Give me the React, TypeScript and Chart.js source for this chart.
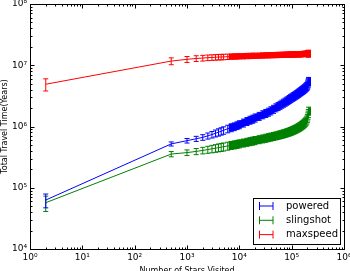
import React, { useEffect, useRef } from "react";
import { Chart, registerables } from "chart.js";

Chart.register(...registerables);

// ---- data ----
const starsVisited = [
  2, 500, 1000, 1500, 2000, 2500, 3000, 3500, 4000, 4500, 5000,
  6000, 7000, 8000, 9000, 10000,
  12000, 14000, 16000, 18000, 20000,
  24000, 28000, 32000, 36000, 40000,
  45000, 50000, 55000, 60000, 65000, 70000, 75000, 80000, 85000, 90000,
  95000, 100000, 105000, 110000, 115000, 120000, 125000, 130000, 135000, 140000,
  145000, 150000, 155000, 160000, 165000, 170000, 175000, 180000, 185000, 190000,
  195000, 200000, 203000, 206000, 208000, 210000,
];

const poweredTime = [
  6.3e4, 5.2e5, 5.87e5, 6.31e5, 6.65e5, 7.03e5, 7.39e5, 7.75e5, 8.07e5, 8.38e5, 8.67e5,
  9.18e5, 9.62e5, 1.0e6, 1.04e6, 1.08e6,
  1.15e6, 1.22e6, 1.28e6, 1.33e6, 1.39e6,
  1.48e6, 1.57e6, 1.65e6, 1.73e6, 1.82e6,
  1.93e6, 2.04e6, 2.14e6, 2.24e6, 2.34e6, 2.43e6, 2.52e6, 2.61e6, 2.7e6, 2.79e6,
  2.88e6, 2.96e6, 3.04e6, 3.12e6, 3.2e6, 3.28e6, 3.36e6, 3.44e6, 3.52e6, 3.6e6,
  3.68e6, 3.76e6, 3.84e6, 3.92e6, 4.0e6, 4.08e6, 4.16e6, 4.25e6, 4.34e6, 4.44e6,
  4.55e6, 4.68e6, 4.85e6, 5.05e6, 5.25e6, 5.5e6,
];
const poweredErr = [
  1.6e4, 4.0e4, 5.0e4, 6.0e4, 7.0e4, 8.0e4, 9.0e4, 1.0e5, 1.1e5, 1.15e5, 1.2e5,
  1.3e5, 1.4e5, 1.45e5, 1.5e5, 1.6e5,
  1.7e5, 1.8e5, 1.9e5, 2.0e5, 2.1e5,
  2.2e5, 2.35e5, 2.5e5, 2.6e5, 2.75e5,
  2.9e5, 3.05e5, 3.2e5, 3.35e5, 3.5e5, 3.65e5, 3.8e5, 3.9e5, 4.05e5, 4.2e5,
  4.3e5, 4.45e5, 4.55e5, 4.7e5, 4.8e5, 4.9e5, 5.05e5, 5.15e5, 5.3e5, 5.4e5,
  5.5e5, 5.65e5, 5.75e5, 5.9e5, 6.0e5, 6.1e5, 6.25e5, 6.4e5, 6.5e5, 6.65e5,
  6.8e5, 7.0e5, 7.3e5, 7.6e5, 7.9e5, 8.3e5,
];

const slingshotTime = [
  5.7e4, 3.55e5, 3.75e5, 3.92e5, 4.07e5, 4.2e5, 4.32e5, 4.42e5, 4.52e5, 4.6e5, 4.68e5,
  4.82e5, 4.95e5, 5.06e5, 5.16e5, 5.26e5,
  5.43e5, 5.58e5, 5.72e5, 5.84e5, 5.96e5,
  6.16e5, 6.34e5, 6.5e5, 6.65e5, 6.79e5,
  6.95e5, 7.1e5, 7.25e5, 7.39e5, 7.53e5, 7.67e5, 7.81e5, 7.95e5, 8.09e5, 8.23e5,
  8.37e5, 8.52e5, 8.67e5, 8.83e5, 8.99e5, 9.15e5, 9.32e5, 9.49e5, 9.67e5, 9.85e5,
  1.004e6, 1.024e6, 1.045e6, 1.067e6, 1.09e6, 1.115e6, 1.14e6, 1.17e6, 1.2e6, 1.24e6,
  1.29e6, 1.36e6, 1.45e6, 1.55e6, 1.65e6, 1.8e6,
];
const slingshotErr = [
  1.6e4, 3.5e4, 4.0e4, 4.5e4, 5.0e4, 5.5e4, 6.0e4, 6.3e4, 6.6e4, 6.9e4, 7.0e4,
  7.2e4, 7.4e4, 7.6e4, 7.7e4, 7.9e4,
  8.1e4, 8.4e4, 8.6e4, 8.8e4, 9.0e4,
  9.2e4, 9.5e4, 9.8e4, 1.0e5, 1.02e5,
  1.04e5, 1.07e5, 1.09e5, 1.11e5, 1.13e5, 1.15e5, 1.17e5, 1.19e5, 1.21e5, 1.23e5,
  1.26e5, 1.28e5, 1.3e5, 1.32e5, 1.35e5, 1.37e5, 1.4e5, 1.42e5, 1.45e5, 1.48e5,
  1.5e5, 1.54e5, 1.57e5, 1.6e5, 1.64e5, 1.67e5, 1.71e5, 1.76e5, 1.8e5, 1.86e5,
  1.94e5, 2.04e5, 2.2e5, 2.35e5, 2.5e5, 2.7e5,
];

const maxspeedTime = [
  4.9e6, 1.17e7, 1.25e7, 1.29e7, 1.31e7, 1.33e7, 1.34e7, 1.35e7, 1.36e7, 1.365e7, 1.37e7,
  1.38e7, 1.39e7, 1.395e7, 1.4e7, 1.405e7,
  1.41e7, 1.42e7, 1.425e7, 1.43e7, 1.435e7,
  1.44e7, 1.45e7, 1.455e7, 1.46e7, 1.465e7,
  1.47e7, 1.475e7, 1.478e7, 1.482e7, 1.485e7, 1.488e7, 1.491e7, 1.494e7, 1.497e7, 1.5e7,
  1.502e7, 1.505e7, 1.507e7, 1.51e7, 1.512e7, 1.514e7, 1.516e7, 1.518e7, 1.52e7, 1.522e7,
  1.524e7, 1.526e7, 1.528e7, 1.53e7, 1.532e7, 1.534e7, 1.536e7, 1.538e7, 1.54e7, 1.542e7,
  1.545e7, 1.548e7, 1.55e7, 1.553e7, 1.556e7, 1.56e7,
];
const maxspeedErr = [
  1.1e6, 1.5e6, 1.4e6, 1.4e6, 1.4e6, 1.4e6, 1.4e6, 1.4e6, 1.4e6, 1.4e6, 1.4e6,
  1.4e6, 1.4e6, 1.4e6, 1.4e6, 1.4e6,
  1.42e6, 1.42e6, 1.42e6, 1.42e6, 1.42e6,
  1.44e6, 1.44e6, 1.44e6, 1.44e6, 1.44e6,
  1.45e6, 1.45e6, 1.45e6, 1.45e6, 1.45e6, 1.45e6, 1.45e6, 1.45e6, 1.45e6, 1.45e6,
  1.48e6, 1.48e6, 1.48e6, 1.48e6, 1.48e6, 1.48e6, 1.48e6, 1.48e6, 1.48e6, 1.48e6,
  1.5e6, 1.5e6, 1.5e6, 1.5e6, 1.5e6, 1.5e6, 1.5e6, 1.5e6, 1.5e6, 1.5e6,
  1.55e6, 1.55e6, 1.7e6, 1.8e6, 1.9e6, 2.0e6,
];

const seriesNames = ["powered", "slingshot", "maxspeed"];
const seriesColors = ["#0000ff", "#008000", "#ff0000"];
const seriesValues = [poweredTime, slingshotTime, maxspeedTime];
const seriesErrors = [poweredErr, slingshotErr, maxspeedErr];

const xTickValues = [1, 10, 100, 1000, 10000, 100000, 1000000];
const yTickValues = [1e4, 1e5, 1e6, 1e7, 1e8];
const xTitle = "Number of Stars Visited";
const yTitle = "Total Travel Time(Years)";

const SUP = ["⁰", "¹", "²", "³", "⁴", "⁵", "⁶", "⁷", "⁸", "⁹"];
const powLabel = (v: number) => "10" + SUP[Math.round(Math.log10(v))];

const FONT = "'DejaVu Sans', sans-serif";

const decorPlugin = {
  id: "decor",
  afterDatasetDraw(chart: any, args: any) {
    const i = args.index;
    const { ctx, chartArea } = chart;
    const xs = chart.scales.x;
    const ys = chart.scales.y;
    ctx.save();
    ctx.beginPath();
    ctx.rect(chartArea.left, chartArea.top, chartArea.right - chartArea.left, chartArea.bottom - chartArea.top);
    ctx.clip();
    const cap = 2.5;
    // where error bars are packed tighter than a pixel apart they merge into a solid band
    const dense: number[] = [];
    starsVisited.forEach((x, j) => {
      if (x >= 7000) dense.push(j);
    });
    if (dense.length > 1) {
      ctx.fillStyle = seriesColors[i];
      ctx.beginPath();
      dense.forEach((j, k) => {
        const px = xs.getPixelForValue(starsVisited[j]);
        const py = ys.getPixelForValue(seriesValues[i][j] + seriesErrors[i][j]);
        if (k === 0) ctx.moveTo(px - cap, py);
        else ctx.lineTo(px, py);
      });
      const last = dense[dense.length - 1];
      ctx.lineTo(xs.getPixelForValue(starsVisited[last]) + cap, ys.getPixelForValue(seriesValues[i][last] + seriesErrors[i][last]));
      ctx.lineTo(xs.getPixelForValue(starsVisited[last]) + cap, ys.getPixelForValue(seriesValues[i][last] - seriesErrors[i][last]));
      for (let k = dense.length - 1; k >= 0; k--) {
        const j = dense[k];
        const px = xs.getPixelForValue(starsVisited[j]);
        const py = ys.getPixelForValue(seriesValues[i][j] - seriesErrors[i][j]);
        ctx.lineTo(k === 0 ? px - cap : px, py);
      }
      ctx.closePath();
      ctx.fill();
    }
    ctx.strokeStyle = seriesColors[i];
    ctx.lineWidth = 1;
    ctx.beginPath();
    starsVisited.forEach((x, j) => {
      const v = seriesValues[i][j];
      const e = seriesErrors[i][j];
      const px = xs.getPixelForValue(x);
      const t = ys.getPixelForValue(v + e);
      const b = ys.getPixelForValue(v - e);
      ctx.moveTo(px, t);
      ctx.lineTo(px, b);
      ctx.moveTo(px - cap, t);
      ctx.lineTo(px + cap, t);
      ctx.moveTo(px - cap, b);
      ctx.lineTo(px + cap, b);
    });
    ctx.stroke();
    ctx.restore();
  },
  afterDraw(chart: any) {
    const { ctx, chartArea } = chart;
    const xs = chart.scales.x;
    const ys = chart.scales.y;
    const L = Math.round(chartArea.left) + 0.5;
    const R = Math.round(chartArea.right) + 0.5;
    const T = Math.round(chartArea.top) + 0.5;
    const B = Math.round(chartArea.bottom) + 0.5;
    ctx.save();
    ctx.strokeStyle = "#000";
    ctx.lineWidth = 1;
    ctx.beginPath();
    for (let k = 0; k < 6; k++) {
      for (let m = 1; m <= 9; m++) {
        const v = m * Math.pow(10, k);
        const px = Math.round(xs.getPixelForValue(v)) + 0.5;
        const len = m === 1 ? 4 : 2;
        ctx.moveTo(px, B);
        ctx.lineTo(px, B - len);
        ctx.moveTo(px, T);
        ctx.lineTo(px, T + len);
      }
    }
    for (let k = 4; k < 8; k++) {
      for (let m = 1; m <= 9; m++) {
        const v = m * Math.pow(10, k);
        const py = Math.round(ys.getPixelForValue(v)) + 0.5;
        const len = m === 1 ? 4 : 2;
        ctx.moveTo(L, py);
        ctx.lineTo(L + len, py);
        ctx.moveTo(R, py);
        ctx.lineTo(R - len, py);
      }
    }
    ctx.stroke();
    ctx.strokeRect(L, T, R - L, B - T);

    // legend
    const lx = 253.5, ly = 198.5, lw = 87, lh = 46;
    ctx.fillStyle = "#fff";
    ctx.fillRect(lx, ly, lw, lh);
    ctx.strokeStyle = "#000";
    ctx.strokeRect(lx, ly, lw, lh);
    ctx.font = "10px " + FONT;
    ctx.textBaseline = "middle";
    ctx.textAlign = "left";
    seriesNames.forEach((name, i) => {
      const cy = 206 + i * 14.3;
      ctx.strokeStyle = seriesColors[i];
      ctx.beginPath();
      ctx.moveTo(259, cy);
      ctx.lineTo(273, cy);
      ctx.moveTo(259.5, cy - 4);
      ctx.lineTo(259.5, cy + 4);
      ctx.moveTo(273, cy - 4);
      ctx.lineTo(273, cy + 4);
      ctx.stroke();
      ctx.fillStyle = "#000";
      ctx.fillText(name, 286, cy);
    });
    ctx.restore();
  },
};

export default function App() {
  const ref = useRef<HTMLCanvasElement>(null);
  useEffect(() => {
    document.body.style.margin = "0";
    const canvas = ref.current!;
    const chart = new Chart(canvas, {
      type: "line",
      data: {
        datasets: seriesNames.map((name, i) => ({
          label: name,
          data: starsVisited.map((x, j) => ({ x, y: seriesValues[i][j] })),
          borderColor: seriesColors[i],
          backgroundColor: seriesColors[i],
          borderWidth: 1,
          pointRadius: 0,
          pointHoverRadius: 0,
          fill: false,
          tension: 0,
        })),
      },
      options: {
        responsive: false,
        animation: false,
        devicePixelRatio: 1,
        events: [],
        layout: { padding: { left: 0, right: 6, top: 4, bottom: 0 } },
        plugins: { legend: { display: false }, tooltip: { enabled: false } },
        scales: {
          x: {
            type: "logarithmic",
            min: 1,
            max: 1e6,
            afterBuildTicks: (s: any) => {
              s.ticks = xTickValues.map((v) => ({ value: v }));
            },
            afterFit: (s: any) => {
              s.height = 22;
              s.paddingLeft = 0;
              s.paddingRight = 0;
            },
            grid: { display: false, drawTicks: false },
            border: { display: false },
            ticks: {
              callback: (v: any) => powLabel(Number(v)),
              font: { family: FONT, size: 9 },
              color: "#000",
              padding: 3,
              maxRotation: 0,
              autoSkip: false,
            },
            title: {
              display: true,
              text: xTitle,
              font: { family: FONT, size: 8 },
              color: "#000",
              padding: { top: 0, bottom: -5 },
            },
          },
          y: {
            type: "logarithmic",
            min: 1e4,
            max: 1e8,
            afterBuildTicks: (s: any) => {
              s.ticks = yTickValues.map((v) => ({ value: v }));
            },
            afterFit: (s: any) => {
              s.width = 30;
              s.paddingTop = 0;
              s.paddingBottom = 0;
            },
            grid: { display: false, drawTicks: false },
            border: { display: false },
            ticks: {
              callback: (v: any) => powLabel(Number(v)),
              font: { family: FONT, size: 9 },
              color: "#000",
              padding: 3,
              autoSkip: false,
            },
            title: {
              display: true,
              text: yTitle,
              font: { family: FONT, size: 8 },
              color: "#000",
              padding: { top: 0.5, bottom: 0 },
            },
          },
        },
      },
      plugins: [decorPlugin],
    } as any);
    return () => chart.destroy();
  }, []);
  return <canvas ref={ref} width={350} height={271} style={{ display: "block" }} />;
}
